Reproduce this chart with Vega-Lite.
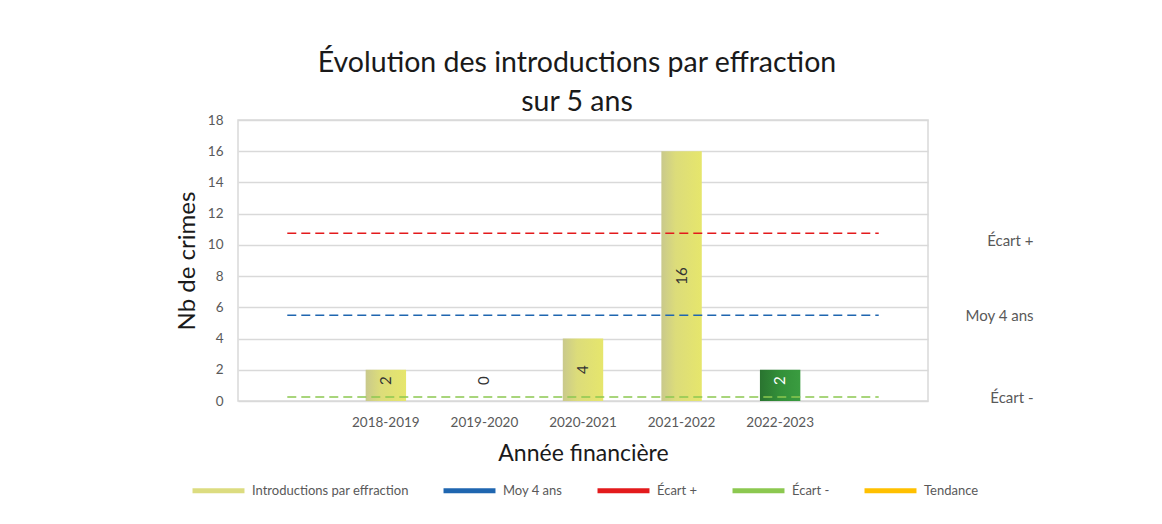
{
  "$schema": "https://vega.github.io/schema/vega-lite/v6.json",
  "width": 690,
  "height": 281,
  "autosize": {"type": "none"},
  "padding": {"left": 238, "top": 120, "right": 234, "bottom": 123},
  "background": "white",
  "config": {
    "font": "Lato",
    "view": {"stroke": "#d9d9d9", "strokeWidth": 1.5},
    "axis": {"labelColor": "#595959", "labelFontSize": 13.5, "domain": false, "ticks": false}
  },
  "title": {
    "text": ["Évolution des introductions par effraction", "sur 5 ans"],
    "fontSize": 28.5,
    "fontWeight": "normal",
    "color": "#1a1a1a",
    "lineHeight": 39,
    "offset": -3,
    "anchor": "middle",
    "dx": -6
  },
  "datasets": {
    "crimes": [
      {"annee": "2018-2019", "value": 2},
      {"annee": "2019-2020", "value": 0},
      {"annee": "2020-2021", "value": 4},
      {"annee": "2021-2022", "value": 16},
      {"annee": "2022-2023", "value": 2}
    ],
    "refs": [
      {"series": "Moy 4 ans", "value": 5.5},
      {"series": "Écart +", "value": 10.75},
      {"series": "Écart -", "value": 0.25}
    ]
  },
  "resolve": {"scale": {"y": "independent"}},
  "layer": [
    {
      "data": {"name": "crimes"},
      "mark": {"type": "bar", "width": {"band": 0.41}},
      "encoding": {
        "x": {
          "field": "annee",
          "type": "nominal",
          "scale": {"domain": [" ", "2018-2019", "2019-2020", "2020-2021", "2021-2022", "2022-2023", "  "], "paddingInner": 0, "paddingOuter": 0},
          "axis": {"title": "Année financière", "labelAngle": 0, "labelPadding": 14, "titlePadding": 14, "titleFontSize": 23, "titleFontWeight": "normal", "titleColor": "#1a1a1a", "grid": false}
        },
        "y": {
          "field": "value",
          "type": "quantitative",
          "scale": {"domain": [0, 18], "nice": false},
          "axis": {"title": "Nb de crimes", "values": [0, 2, 4, 6, 8, 10, 12, 14, 16, 18], "labelPadding": 15, "titlePadding": 8, "titleFontSize": 24, "titleFontWeight": "normal", "titleColor": "#1a1a1a", "grid": true, "gridColor": "#d9d9d9", "gridWidth": 1.5}
        },
        "color": {
          "condition": {"test": "datum.annee === '2022-2023'", "value": {"gradient": "linear", "x1": 0, "y1": 0, "x2": 1, "y2": 0, "stops": [{"offset": 0, "color": "#2a7430"}, {"offset": 0.5, "color": "#339039"}, {"offset": 1, "color": "#3a9c40"}]}},
          "value": {"gradient": "linear", "x1": 0, "y1": 0, "x2": 1, "y2": 0, "stops": [{"offset": 0, "color": "#c9c98c"}, {"offset": 0.35, "color": "#dcdc7a"}, {"offset": 1, "color": "#e6e66c"}]}
        }
      }
    },
    {
      "data": {"name": "crimes"},
      "transform": [{"calculate": "max(datum.value / 2, 1.3)", "as": "mid"}],
      "mark": {"type": "text", "angle": 270, "align": "center", "baseline": "middle", "fontSize": 15},
      "encoding": {
        "x": {"field": "annee", "type": "nominal"},
        "y": {"field": "mid", "type": "quantitative", "scale": {"domain": [0, 18], "nice": false}, "axis": null},
        "text": {"field": "value", "type": "quantitative"},
        "color": {"condition": {"test": "datum.annee === '2022-2023'", "value": "white"}, "value": "#333333"}
      }
    },
    {
      "data": {"name": "refs"},
      "mark": {"type": "rule", "strokeDash": [9, 5], "strokeWidth": 1.5},
      "encoding": {
        "x": {"datum": " "},
        "x2": {"datum": "  "},
        "y": {
          "field": "value",
          "type": "quantitative",
          "scale": {"domain": [0, 18], "nice": false},
          "axis": {"orient": "right", "title": null, "grid": false, "values": [0.25, 5.45, 10.3], "labelExpr": "datum.value < 1 ? 'Écart -' : datum.value < 8 ? 'Moy 4 ans' : 'Écart +'", "labelAlign": "right", "labelPadding": 105, "labelFontSize": 15}
        },
        "color": {
          "field": "series",
          "type": "nominal",
          "scale": {
            "domain": ["Introductions par effraction", "Moy 4 ans", "Écart +", "Écart -", "Tendance"],
            "range": ["#dcdc80", "#1f66b0", "#e31a1c", "#8cc850", "#ffc000"]
          },
          "legend": {
            "orient": "none",
            "legendX": -48,
            "legendY": 342,
            "direction": "horizontal",
            "title": null,
            "symbolType": "stroke",
            "symbolStrokeWidth": 5,
            "symbolSize": 2700,
            "symbolDash": [],
            "labelFontSize": 13,
            "labelLimit": 300,
            "labelColor": "#595959",
            "columnPadding": 24,
            "labelOffset": 5
          }
        }
      }
    }
  ]
}
